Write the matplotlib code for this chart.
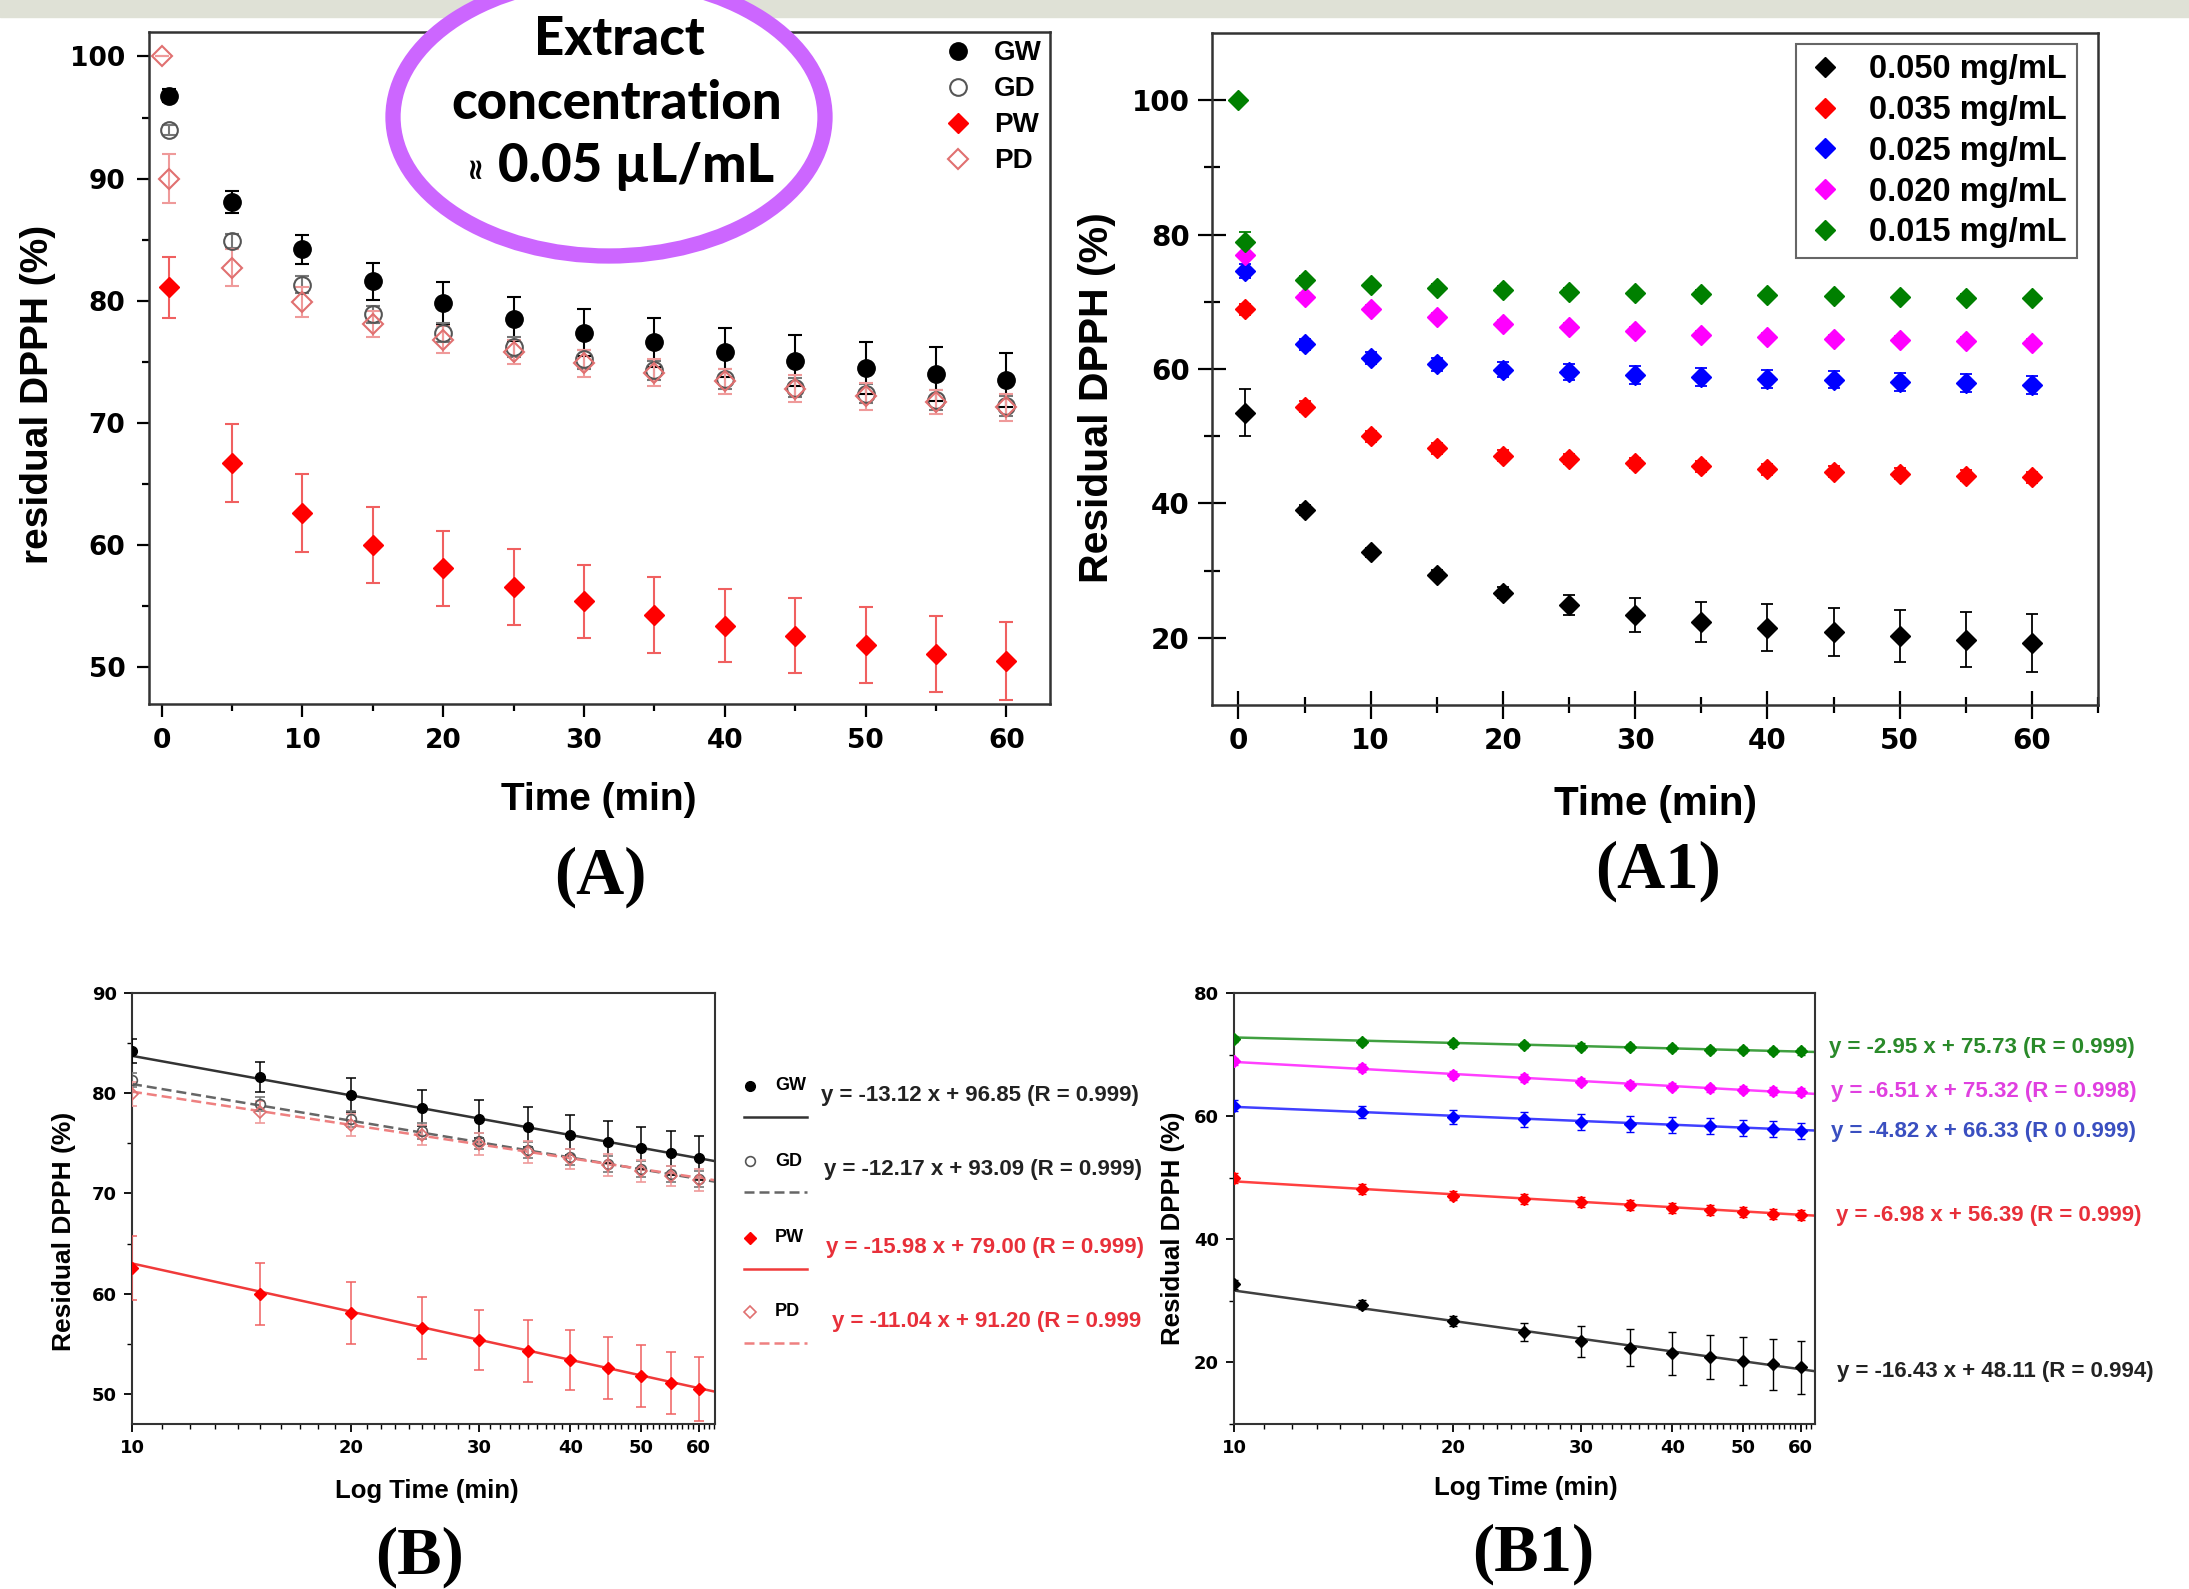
import matplotlib.pyplot as plt
import numpy as np
from matplotlib.patches import Ellipse, Rectangle
from matplotlib.lines import Line2D
from matplotlib.ticker import MultipleLocator, FixedLocator, NullFormatter

W, H = 2189, 1589

# ---- data ----
t_a = [0.5, 5, 10, 15, 20, 25, 30, 35, 40, 45, 50, 55, 60]
t_a0 = [0] + t_a

gw = [96.8, 88.1, 84.2, 81.6, 79.8, 78.5, 77.4, 76.6, 75.8, 75.1, 74.5, 74.0, 73.5]
gw_err = [0.5, 0.9, 1.2, 1.5, 1.7, 1.8, 1.9, 2.0, 2.0, 2.1, 2.1, 2.2, 2.2]
gd = [94.0, 84.9, 81.3, 78.9, 77.4, 76.2, 75.2, 74.3, 73.6, 72.9, 72.4, 71.9, 71.4]
gd_err = [0.4, 0.6, 0.7, 0.7, 0.8, 0.8, 0.8, 0.8, 0.8, 0.8, 0.8, 0.8, 0.8]
pw = [81.1, 66.7, 62.6, 60.0, 58.1, 56.6, 55.4, 54.3, 53.4, 52.6, 51.8, 51.1, 50.5]
pw_err = [2.5, 3.2, 3.2, 3.1, 3.1, 3.1, 3.0, 3.1, 3.0, 3.1, 3.1, 3.1, 3.2]
pd = [100.0, 90.0, 82.7, 79.9, 78.1, 76.8, 75.8, 74.9, 74.1, 73.4, 72.8, 72.2, 71.7, 71.3]
pd_err = [0, 2.0, 1.5, 1.2, 1.1, 1.1, 1.0, 1.1, 1.1, 1.0, 1.1, 1.1, 1.0, 1.1]
extracts = ['GW', 'GD', 'PW', 'PD']

c050 = [53.5, 39.0, 32.7, 29.4, 26.7, 24.9, 23.4, 22.4, 21.5, 20.9, 20.3, 19.7, 19.2]
c050_err = [3.5, 0.7, 0.7, 0.7, 0.8, 1.5, 2.5, 3.0, 3.5, 3.6, 3.9, 4.1, 4.3]
c035 = [68.9, 54.4, 50.0, 48.2, 47.1, 46.6, 46.0, 45.5, 45.1, 44.7, 44.4, 44.1, 43.9]
c035_err = [0.8, 0.8, 0.8, 0.8, 0.8, 0.8, 0.8, 0.8, 0.8, 0.8, 0.8, 0.8, 0.8]
c025 = [74.6, 63.7, 61.7, 60.7, 59.9, 59.5, 59.1, 58.8, 58.5, 58.4, 58.1, 57.9, 57.6]
c025_err = [1.0, 0.8, 0.9, 1.0, 1.1, 1.2, 1.3, 1.3, 1.3, 1.3, 1.3, 1.3, 1.3]
c020 = [77.0, 70.7, 68.9, 67.8, 66.7, 66.2, 65.6, 65.1, 64.8, 64.5, 64.3, 64.1, 63.9]
c020_err = [2.0, 0.6, 0.6, 0.6, 0.6, 0.6, 0.6, 0.6, 0.6, 0.6, 0.6, 0.6, 0.6]
c015 = [100.0, 78.9, 73.3, 72.5, 72.1, 71.8, 71.5, 71.3, 71.2, 71.0, 70.8, 70.7, 70.6, 70.5]
c015_err = [0, 1.5, 0.5, 0.5, 0.5, 0.5, 0.5, 0.5, 0.5, 0.5, 0.5, 0.5, 0.5, 0.5]
conc_labels = ['0.050 mg/mL', '0.035 mg/mL', '0.025 mg/mL', '0.020 mg/mL', '0.015 mg/mL']

# linear fits vs log10(time), from the equations printed on the figure
b_slope = [-13.12, -12.17, -15.98, -11.04]
b_icpt = [96.85, 93.09, 79.00, 91.20]
b_eq = ['y = -13.12 x + 96.85 (R = 0.999)', 'y = -12.17 x + 93.09 (R = 0.999)',
        'y = -15.98 x + 79.00 (R = 0.999)', 'y = -11.04 x + 91.20 (R = 0.999']
b1_slope = [-16.43, -6.98, -4.82, -6.51, -2.95]
b1_icpt = [48.11, 56.39, 66.33, 75.32, 75.73]
b1_eq = ['y = -16.43 x + 48.11 (R = 0.994)', 'y = -6.98 x + 56.39 (R = 0.999)',
         'y = -4.82 x + 66.33 (R 0 0.999)', 'y = -6.51 x + 75.32 (R = 0.998)',
         'y = -2.95 x + 75.73 (R = 0.999)']

TICKF = dict(family='DejaVu Sans', weight='bold')
LABF = 'Liberation Sans'


def rect(l, t, r, b):
    return [l / W, 1 - b / H, (r - l) / W, (b - t) / H]


def style_axes(ax, lw=1.8):
    for s in ax.spines.values():
        s.set_linewidth(lw)
        s.set_color('#333333')


fig = plt.figure(figsize=(W / 100, H / 100), dpi=100)
fig.add_artist(Rectangle((0, 1 - 17 / H), 1, 17 / H, transform=fig.transFigure,
                         color='#dfe1d6', zorder=-5))

# ---------------- panel A ----------------
axA = fig.add_axes(rect(149, 32, 1050, 704))
style_axes(axA)
a_series = [
    (t_a, gw, gw_err, dict(marker='o', ms=12.5, mfc='black', mec='black'), 'black'),
    (t_a, gd, gd_err, dict(marker='o', ms=12, mfc='none', mec='#555555', mew=1.5), '#777777'),
    (t_a, pw, pw_err, dict(marker='D', ms=10, mfc='#ff0000', mec='#ff0000'), '#f06060'),
    (t_a0, pd, pd_err, dict(marker='D', ms=10, mfc='none', mec='#e07070', mew=1.5), '#ef9a9a'),
]
handles = []
for (t, y, e, st, ecol), name in zip(a_series, extracts):
    axA.errorbar(t, y, yerr=e, ls='none', ecolor=ecol, elinewidth=1.5, capsize=5,
                 capthick=1.5, **st)
    handles.append(Line2D([], [], ls='none', label=name, **st))
axA.set_xlim(-0.9, 63.1)
axA.set_ylim(47.0, 102.0)
axA.xaxis.set_major_locator(MultipleLocator(10))
axA.xaxis.set_minor_locator(MultipleLocator(5))
axA.yaxis.set_major_locator(MultipleLocator(10))
axA.yaxis.set_minor_locator(MultipleLocator(5))
axA.tick_params(which='major', direction='out', length=9, width=1.6, pad=8)
axA.tick_params(which='minor', direction='out', length=5, width=1.6)
for lab in axA.get_xticklabels() + axA.get_yticklabels():
    lab.set(fontsize=19, **TICKF)
axA.set_xlabel('Time (min)', family=LABF, weight='bold', fontsize=28, va='center')
axA.xaxis.set_label_coords(0.4995, -0.143)
axA.set_ylabel('residual DPPH (%)', family=LABF, weight='bold', fontsize=28, va='center')
axA.yaxis.set_label_coords(-0.123, 0.461)
axA.legend(handles=handles, loc='upper right', bbox_to_anchor=(1.0, 1.0), frameon=False,
           borderaxespad=0.1, borderpad=0.2, handletextpad=0.8, handlelength=1.0,
           labelspacing=0.36, prop=dict(family=LABF, weight='bold', size=20))

# ---------------- panel A1 ----------------
axA1 = fig.add_axes(rect(1212, 33, 2098, 705))
style_axes(axA1)
a1_series = [
    (t_a, c050, c050_err, 'black'),
    (t_a, c035, c035_err, '#ff0000'),
    (t_a, c025, c025_err, '#0000ff'),
    (t_a, c020, c020_err, '#ff00ff'),
    (t_a0, c015, c015_err, '#008000'),
]
for (t, y, e, col), name in zip(a1_series, conc_labels):
    axA1.errorbar(t, y, yerr=e, ls='none', marker='D', ms=10, mfc=col, mec=col,
                  ecolor=col, elinewidth=1.3, capsize=4, capthick=1.3, label=name)
axA1.set_xlim(-2, 65)
axA1.set_ylim(10, 110)
axA1.xaxis.set_major_locator(MultipleLocator(10))
axA1.xaxis.set_minor_locator(MultipleLocator(5))
axA1.yaxis.set_major_locator(FixedLocator([20, 40, 60, 80, 100]))
axA1.yaxis.set_minor_locator(FixedLocator([30, 50, 70, 90]))
axA1.tick_params(which='major', direction='inout', length=20, width=1.6, pad=6)
axA1.tick_params(which='minor', direction='inout', length=12, width=1.6)
for lab in axA1.get_xticklabels() + axA1.get_yticklabels():
    lab.set(fontsize=20, **TICKF)
axA1.set_xlabel('Time (min)', family=LABF, weight='bold', fontsize=29, va='center')
axA1.xaxis.set_label_coords(0.501, -0.147)
axA1.set_ylabel('Residual DPPH (%)', family=LABF, weight='bold', fontsize=29.5, va='center')
axA1.yaxis.set_label_coords(-0.130, 0.457)
a1_handles = [Line2D([], [], ls='none', marker='D', ms=10, mfc=c, mec=c, label=n)
              for (_, _, _, c), n in zip(a1_series, conc_labels)]
legA1 = axA1.legend(handles=a1_handles, loc='upper right', bbox_to_anchor=(0.976, 0.983),
                    borderaxespad=0, fancybox=False, framealpha=1, edgecolor='#666666',
                    borderpad=0.3, handletextpad=0.75, handlelength=1.2, labelspacing=0.3,
                    prop=dict(family=LABF, weight='bold', size=23.5))
legA1.get_frame().set_linewidth(1.5)

# ---------------- panel B ----------------
axB = fig.add_axes(rect(132, 993, 715, 1424))
style_axes(axB, 1.5)
axB.set_xscale('log')
b_xmax = 63.2
b_styles = [
    (dict(marker='o', ms=7, mfc='black', mec='black'), 'black', '#333333', '-'),
    (dict(marker='o', ms=7, mfc='none', mec='#555555', mew=1.2), '#777777', '#666666', (0, (4, 2))),
    (dict(marker='D', ms=6, mfc='#ff0000', mec='#ff0000'), '#f06060', '#f03a3a', '-'),
    (dict(marker='D', ms=6, mfc='none', mec='#e07070', mew=1.2), '#ef9a9a', '#ee8080', (0, (4, 2))),
]
b_data = [(t_a, gw, gw_err), (t_a, gd, gd_err), (t_a, pw, pw_err), (t_a0, pd, pd_err)]
for (t, y, e), (st, ecol, lcol, ls), a, b in zip(b_data, b_styles, b_slope, b_icpt):
    t = np.array(t)
    keep = t >= 10
    axB.errorbar(t[keep], np.array(y)[keep], yerr=np.array(e)[keep], ls='none', ecolor=ecol,
                 elinewidth=1.1, capsize=3.5, capthick=1.1, zorder=3, **st)
    xx = np.array([10, b_xmax])
    axB.plot(xx, a * np.log10(xx) + b, color=lcol, ls=ls, lw=1.8, zorder=2)
axB.set_xlim(10, b_xmax)
axB.set_ylim(47.0, 90)
axB.xaxis.set_major_locator(FixedLocator([10, 20, 30, 40, 50, 60]))
axB.xaxis.set_minor_locator(FixedLocator([v for v in range(11, 64) if v % 10]))
axB.xaxis.set_major_formatter(plt.FuncFormatter(lambda v, p: '%d' % v))
axB.xaxis.set_minor_formatter(NullFormatter())
axB.yaxis.set_major_locator(MultipleLocator(10))
axB.yaxis.set_minor_locator(MultipleLocator(5))
axB.tick_params(which='major', direction='out', length=6, width=1.3, pad=5)
axB.tick_params(which='minor', direction='out', length=3.5, width=1.0)
for lab in axB.get_xticklabels() + axB.get_yticklabels():
    lab.set(fontsize=13, **TICKF)
axB.set_xlabel('Log Time (min)', family=LABF, weight='bold', fontsize=18.5, va='center')
axB.xaxis.set_label_coords(0.506, -0.155)
axB.set_ylabel('Residual DPPH (%)', family=LABF, weight='bold', fontsize=19, va='center')
axB.yaxis.set_label_coords(-0.117, 0.448)

# side legend of panel B: marker + name, fit line below, equation on the right
b_rows = [1086, 1161, 1238, 1312]
b_eq_x = [821, 824, 826, 832]
b_eq_col = ['#222222', '#222222', '#e8303a', '#e8303a']
for (st, ecol, lcol, ls), name, yr, ex, eq, ec in zip(b_styles, extracts, b_rows, b_eq_x, b_eq, b_eq_col):
    fig.add_artist(Line2D([750 / W], [1 - yr / H], transform=fig.transFigure, ls='none', **st))
    fig.text(775 / W, 1 - yr / H, name, family=LABF, weight='bold', fontsize=13,
             va='center', ha='left')
    fig.add_artist(Line2D([744 / W, 807 / W], [1 - (yr + 31) / H] * 2, transform=fig.transFigure,
                          color=lcol, ls=ls, lw=1.8))
    fig.text(ex / W, 1 - (yr + 9) / H, eq, family=LABF, weight='bold', fontsize=16,
             color=ec, va='center', ha='left')

# ---------------- panel B1 ----------------
axB1 = fig.add_axes(rect(1234, 993, 1815, 1424))
style_axes(axB1, 1.5)
axB1.set_xscale('log')
b1_xmax = 62.8
b1_eq_col = ['#222222', '#e8303a', '#3a4fc0', '#e040e0', '#2a8a2a']
for (t, y, e, col), a, b in zip(a1_series, b1_slope, b1_icpt):
    t = np.array(t)
    keep = t >= 10
    axB1.errorbar(t[keep], np.array(y)[keep], yerr=np.array(e)[keep], ls='none', marker='D',
                  ms=6, mfc=col, mec=col, ecolor=col, elinewidth=1.0, capsize=3, capthick=1.0,
                  zorder=3)
    xx = np.array([10, b1_xmax])
    axB1.plot(xx, a * np.log10(xx) + b, color=col, lw=1.8, alpha=0.75, zorder=2)
axB1.set_xlim(10, b1_xmax)
axB1.set_ylim(10, 80)
axB1.xaxis.set_major_locator(FixedLocator([10, 20, 30, 40, 50, 60]))
axB1.xaxis.set_minor_locator(FixedLocator([v for v in range(11, 63) if v % 10]))
axB1.xaxis.set_major_formatter(plt.FuncFormatter(lambda v, p: '%d' % v))
axB1.xaxis.set_minor_formatter(NullFormatter())
axB1.yaxis.set_major_locator(MultipleLocator(20))
axB1.yaxis.set_minor_locator(MultipleLocator(10))
axB1.tick_params(which='major', direction='out', length=6, width=1.3, pad=5)
axB1.tick_params(which='minor', direction='out', length=3.5, width=1.0)
for lab in axB1.get_xticklabels() + axB1.get_yticklabels():
    lab.set(fontsize=13, **TICKF)
axB1.set_xlabel('Log Time (min)', family=LABF, weight='bold', fontsize=18.5, va='center')
axB1.xaxis.set_label_coords(0.503, -0.148)
axB1.set_ylabel('Residual DPPH (%)', family=LABF, weight='bold', fontsize=18.5, va='center')
axB1.yaxis.set_label_coords(-0.105, 0.455)

b1_eq_xy = [(1837, 1372), (1836, 1215), (1831, 1132), (1831, 1092), (1829, 1047)]
for eq, (ex, ey), ec in zip(b1_eq, b1_eq_xy, b1_eq_col):
    fig.text(ex / W, 1 - ey / H, eq, family=LABF, weight='bold', fontsize=16,
             color=ec, va='center', ha='left')

# ---------------- panel letters ----------------
for lab, (x, y) in zip(['(A)', '(A1)', '(B)', '(B1)'],
                       [(600, 877), (1658, 871), (419, 1557), (1533, 1554)]):
    fig.text(x / W, 1 - y / H, lab, family='Liberation Serif', weight='bold', fontsize=48,
             ha='center', va='center')

# ---------------- callout ellipse ----------------
fig.add_artist(Ellipse((609 / W, 1 - 117 / H), 432 / W, 278 / H, transform=fig.transFigure,
                       facecolor='white', edgecolor='#cc66ff', lw=11, zorder=5))
fig.text(619 / W, 1 - 55 / H, 'Extract', family='Lato', weight='black', fontsize=38,
         ha='center', va='baseline', zorder=6)
fig.text(617 / W, 1 - 119 / H, 'concentration', family='Lato', weight='black', fontsize=38,
         ha='center', va='baseline', zorder=6)
fig.text(474 / W, 1 - 166 / H, '≈', family='DejaVu Sans', weight='bold', fontsize=21,
         rotation=90, ha='center', va='center', zorder=6)
fig.text(636 / W, 1 - 182 / H, '0.05 µL/mL', family='Lato', weight='black', fontsize=38,
         ha='center', va='baseline', zorder=6)

fig.savefig('out.png', dpi=100, facecolor='white')
